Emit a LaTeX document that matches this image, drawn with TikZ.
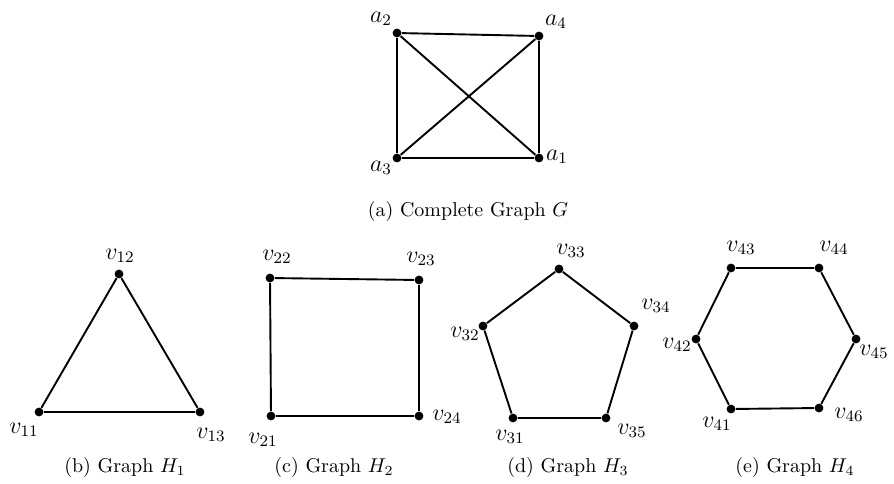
\documentclass[tikz,border=0pt]{standalone}
\usepackage{tikz}
\usepackage{amsmath}
\usetikzlibrary{positioning}

\tikzset{
  vertex/.style={circle, fill=black, inner sep=0pt, minimum size=4.4pt},
  edge/.style={line width=0.95pt},
  vlabel/.style={font=\large},
  caption/.style={font=\normalsize}
}

\begin{document}
\begin{tikzpicture}[x=0.5pt, y=-0.5pt]

\useasboundingbox (0,0) rectangle (894,483);

% ---------- GRAFO COMPLETO G ----------

\node[vertex] (a2) at (397,33) {};
\node[vertex] (a4) at (539,36) {};
\node[vertex] (a3) at (397,158) {};
\node[vertex] (a1) at (539,158) {};

\node[vlabel] (la2) at (381,19) {$a_2$};
\node[vlabel] (la4) at (556,22) {$a_4$};
\node[vlabel] (la3) at (381,168) {$a_3$};
\node[vlabel] (la1) at (557,157) {$a_1$};

\draw[edge] (a2) -- (a4) -- (a1) -- (a3) -- (a2);
\draw[edge] (a2) -- (a1);
\draw[edge] (a3) -- (a4);

\node[caption] (capa) at (468,211) {(a) Complete Graph $G$};

% ---------- GRAFO H1 ----------

\node[vertex] (v12) at (119,274) {};
\node[vertex] (v11) at (39,412) {};
\node[vertex] (v13) at (200,412) {};

\node[vlabel] (lv12) at (120,256) {$v_{12}$};
\node[vlabel] (lv11) at (24,430) {$v_{11}$};
\node[vlabel] (lv13) at (211,435) {$v_{13}$};

\draw[edge] (v12) -- (v13) -- (v11) -- (v12);

\node[caption] (capb) at (125,467) {(b) Graph $H_1$};

% ---------- GRAFO H2 ----------

\node[vertex] (v22) at (270,278) {};
\node[vertex] (v23) at (419,280) {};
\node[vertex] (v21) at (271,416) {};
\node[vertex] (v24) at (419,416) {};

\node[vlabel] (lv22) at (277,257) {$v_{22}$};
\node[vlabel] (lv23) at (421,259) {$v_{23}$};
\node[vlabel] (lv21) at (263,440) {$v_{21}$};
\node[vlabel] (lv24) at (447,417) {$v_{24}$};

\draw[edge] (v22) -- (v23) -- (v24) -- (v21) -- (v22);

\node[caption] (capc) at (334,467) {(c) Graph $H_2$};

% ---------- GRAFO H3 ----------

\node[vertex] (v33) at (559,269) {};
\node[vertex] (v34) at (634,326) {};
\node[vertex] (v32) at (483,326) {};
\node[vertex] (v31) at (513,418) {};
\node[vertex] (v35) at (606,418) {};

\node[vlabel] (lv33) at (571,251) {$v_{33}$};
\node[vlabel] (lv34) at (656,306) {$v_{34}$};
\node[vlabel] (lv32) at (465,334) {$v_{32}$};
\node[vlabel] (lv31) at (510,437) {$v_{31}$};
\node[vlabel] (lv35) at (632,431) {$v_{35}$};

\draw[edge] (v33) -- (v34) -- (v35) -- (v31) -- (v32) -- (v33);

\node[caption] (capd) at (568,467) {(d) Graph $H_3$};

% ---------- GRAFO H4 ----------

\node[vertex] (v43) at (731,268) {};
\node[vertex] (v44) at (819,268) {};
\node[vertex] (v42) at (696,339) {};
\node[vertex] (v45) at (856,339) {};
\node[vertex] (v41) at (731,409) {};
\node[vertex] (v46) at (819,408) {};

\node[vlabel] (lv43) at (741,248) {$v_{43}$};
\node[vlabel] (lv44) at (834,248) {$v_{44}$};
\node[vlabel] (lv42) at (677,345) {$v_{42}$};
\node[vlabel] (lv45) at (874,352) {$v_{45}$};
\node[vlabel] (lv41) at (717,424) {$v_{41}$};
\node[vlabel] (lv46) at (849,415) {$v_{46}$};

\draw[edge] (v43) -- (v44) -- (v45) -- (v46) -- (v41) -- (v42) -- (v43);

\node[caption] (cape) at (795,467) {(e) Graph $H_4$};

\end{tikzpicture}
\end{document}
